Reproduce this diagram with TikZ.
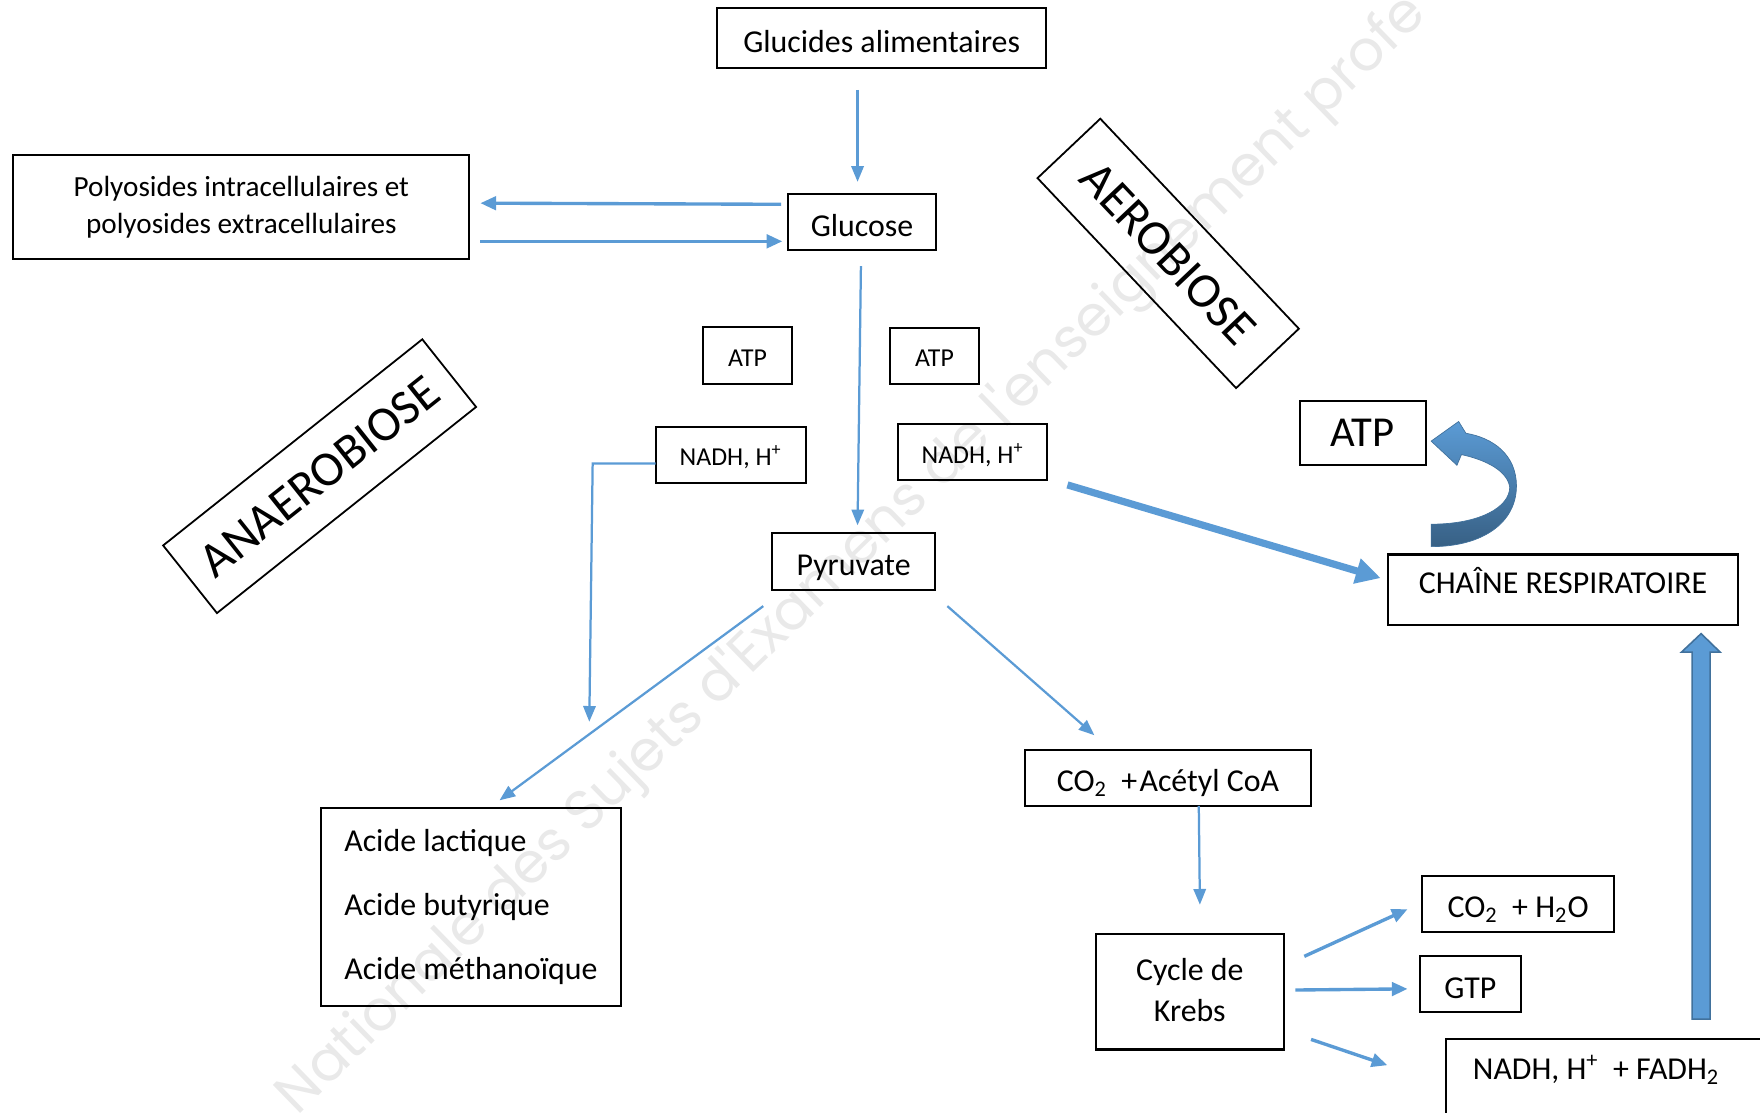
\documentclass[tikz,border=0pt]{standalone}
\usepackage{fontspec}
\setmainfont{Carlito}
\newfontfamily\wmfont{Poppins}
\usetikzlibrary{arrows.meta}
\definecolor{arrowblue}{HTML}{5B9BD5}
\definecolor{arrowdark}{HTML}{41719C}
\definecolor{wmgray}{HTML}{E9E9E9}
\begin{document}
\begin{tikzpicture}[x=0.5pt,y=-0.5pt,
  box/.style={draw=black,line width=0.9pt,inner sep=0pt,align=center,font=\fontsize{14.2}{17}\selectfont},
  onebox/.style={box,text height=12.5pt,text depth=0pt},
  smallbox/.style={box,font=\fontsize{11.5}{14}\selectfont,text height=9.6pt,text depth=0pt},
  tiltbox/.style={draw=black,line width=0.8pt,inner sep=0pt,font=\fontsize{22}{26}\selectfont},
  flow/.style={draw=arrowblue,line width=1pt,-{Triangle[length=7pt,width=5.5pt]}},
  flowthick/.style={draw=arrowblue,line width=1.5pt,-{Triangle[length=7pt,width=6pt]}},
  bigflow/.style={draw=arrowblue,line width=3.2pt,-{Triangle[length=11pt,width=11pt]}},
]
\useasboundingbox (0,0) rectangle (1568,991);
\clip (0,0) rectangle (1568,991);

% watermark
\node[rotate=44.2,text=wmgray,font=\wmfont\fontsize{25}{30}\selectfont,inner sep=0pt] (wm) at (760,495) {Nationale des Sujets d'Examens de l'enseignement profe};

% boxes
\node[onebox,minimum width=146.5pt,minimum height=27pt] (glu) at (785.5,34) {Glucides alimentaires};
\node[onebox,minimum width=66pt,minimum height=25pt] (glc) at (768,198) {Glucose};
\node[box,minimum width=203pt,minimum height=46.5pt,font=\fontsize{13}{16.5}\selectfont] (poly) at (215,184.5) {Polyosides intracellulaires et\\polyosides extracellulaires};
\node[smallbox,minimum width=40pt,minimum height=25.5pt] (atpa) at (666,316.5) {ATP};
\node[smallbox,minimum width=39.5pt,minimum height=25pt] (atpb) at (832.5,317) {ATP};
\node[smallbox,minimum width=67pt,minimum height=25pt] (nadha) at (651,405) {NADH, H\textsuperscript{+}};
\node[smallbox,minimum width=66.5pt,minimum height=25pt] (nadhb) at (866.5,403) {NADH, H\textsuperscript{+}};
\node[onebox,minimum width=72.5pt,minimum height=25.5pt] (pyr) at (760.5,500.5) {Pyruvate};
\node[box,align=left,minimum width=133.5pt,minimum height=88pt,font=\fontsize{14.2}{28.5}\selectfont] (acid) at (419.5,808) {Acide lactique\\Acide butyrique\\Acide méthanoïque};
\node[onebox,minimum width=127.5pt,minimum height=25pt] (acetyl) at (1040.5,693) {CO\textsubscript{2}~~+\kern1pt Acétyl CoA};
\node[box,minimum width=84pt,minimum height=51.5pt,font=\fontsize{14.2}{18.5}\selectfont] (krebs) at (1060,883.5) {\raisebox{1.5pt}{Cycle de}\\\raisebox{1.5pt}{Krebs}};
\node[onebox,minimum width=85.5pt,minimum height=25pt] (coh) at (1352.5,805) {CO\textsubscript{2}~~+ H\textsubscript{2}O};
\node[onebox,minimum width=45pt,minimum height=25pt] (gtp) at (1310,877) {GTP};
\node[onebox,minimum width=155.5pt,minimum height=31.5pt] (chaine) at (1392.5,525.5) {\raisebox{4.5pt}{CHAÎNE RESPIRATOIRE}};
\node[box,minimum width=56pt,minimum height=28.5pt,font=\fontsize{19}{22}\selectfont] (atpbig) at (1214,385.5) {ATP};
\draw[line width=0.9pt] (1288,1060) -- (1288,926) -- (1620,926);
\node[font=\fontsize{14.2}{17}\selectfont,inner sep=0pt] (fadh) at (1422,953) {NADH, H\textsuperscript{+}~~+ FADH\textsubscript{2}};

% tilted labels
\node[tiltbox,rotate=38.5,minimum width=147.5pt,minimum height=38.5pt] (anaero) at (284.75,424.25) {ANAEROBIOSE};
\node[tiltbox,rotate=-46.6,minimum width=128.75pt,minimum height=38.5pt] (aero) at (1040.75,225.75) {AEROBIOSE};

% connector end points
\coordinate (g1) at (764,80);   \coordinate (g2) at (764,162);
\coordinate (p1) at (696,182);  \coordinate (p2) at (428,181);
\coordinate (p3) at (428,215);  \coordinate (p4) at (697,215);
\coordinate (v1) at (767,237);  \coordinate (v2) at (764,468);
\coordinate (n1) at (584,413);  \coordinate (n2) at (528,413);  \coordinate (n3) at (525,643);
\coordinate (r1) at (680,540);  \coordinate (r2) at (445,713);
\coordinate (r3) at (844,540);  \coordinate (r4) at (975,655);
\coordinate (c1) at (1068,718); \coordinate (c2) at (1069,806);
\coordinate (k1) at (1162,852); \coordinate (k2) at (1254,810);
\coordinate (k3) at (1154,882); \coordinate (k4) at (1254,881);
\coordinate (k5) at (1168,926); \coordinate (k6) at (1236,949);
\coordinate (t1) at (951,432);  \coordinate (t2) at (1230,515);

\draw[flow] (g1) -- (g2);
\draw[flowthick] (p1) -- (p2);
\draw[flowthick] (p3) -- (p4);
\draw[flow] (v1) -- (v2);
\draw[flow] (n1) -- (n2) -- (n3);
\draw[flow] (r1) -- (r2);
\draw[flow] (r3) -- (r4);
\draw[flow] (c1) -- (c2);
\draw[flowthick] (k1) -- (k2);
\draw[flowthick] (k3) -- (k4);
\draw[flowthick] (k5) -- (k6);
\draw[bigflow] (t1) -- (t2);

% big upward block arrow
\filldraw[fill=arrowblue,draw=arrowdark,line width=0.7pt]
  (1507.5,908) -- (1507.5,581) -- (1498,581) -- (1515.5,564.5) -- (1532.5,581) -- (1523.5,581) -- (1523.5,908) -- cycle;

% curved block arrow
\shade[top color=arrowblue,bottom color=arrowdark!85!black,draw=arrowdark,line width=0.3pt]
  (1275,487) .. controls (1322,487) and (1351,465) .. (1351,433)
  .. controls (1351,405) and (1330,390) .. (1306,386)
  -- (1299.5,375.5) -- (1275,393) -- (1298,414.5) -- (1302,405)
  .. controls (1325,410) and (1343,420) .. (1345,434)
  .. controls (1345,452) and (1318,467) .. (1275,467) -- cycle;
\end{tikzpicture}
\end{document}
